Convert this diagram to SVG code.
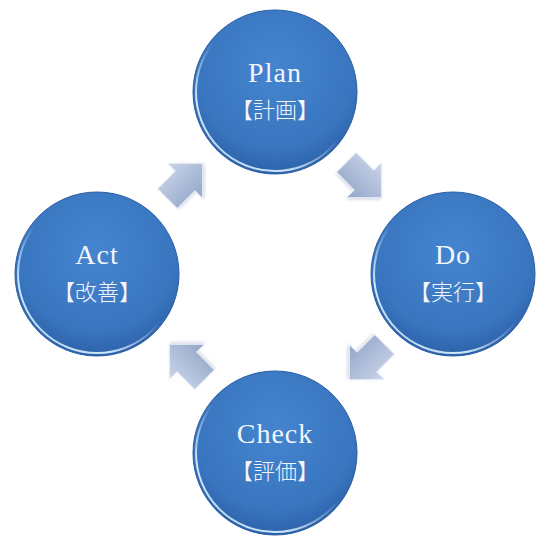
<svg xmlns="http://www.w3.org/2000/svg" width="549" height="541" viewBox="0 0 549 541">
  <defs>
    <radialGradient id="ballFill" cx="0.5" cy="0.36" r="0.64">
      <stop offset="0" stop-color="#4484ce"/>
      <stop offset="0.75" stop-color="#3a76c0"/>
      <stop offset="1" stop-color="#2c62aa"/>
    </radialGradient>
    <linearGradient id="rimLight" x1="0.85" y1="0.05" x2="0.15" y2="0.95">
      <stop offset="0" stop-color="#ffffff" stop-opacity="0"/>
      <stop offset="0.5" stop-color="#ffffff" stop-opacity="0"/>
      <stop offset="0.82" stop-color="#d8f0ff" stop-opacity="0.95"/>
      <stop offset="1" stop-color="#d8f0ff" stop-opacity="0.8"/>
    </linearGradient>
    <linearGradient id="arrowFill" x1="0" y1="0" x2="0" y2="1">
      <stop offset="0" stop-color="#cbd5ea"/>
      <stop offset="0.5" stop-color="#aebdd9"/>
      <stop offset="1" stop-color="#93a6c8"/>
    </linearGradient>
    <filter id="soft" x="-20%" y="-20%" width="140%" height="140%">
      <feGaussianBlur stdDeviation="1.5"/>
    </filter>
    <path id="arrowShape" d="M -25 -14 L 0 -14 L 0 -25 L 25 0 L 0 25 L 0 14 L -25 14 Z"/>
  </defs>
  <style>
    .ball { fill: url(#ballFill); stroke: #2a5ea3; stroke-width: 1; }
    .rim { fill: none; stroke: url(#rimLight); stroke-width: 2; }
    .t1 { font-family: "Liberation Serif", "DejaVu Serif", serif; font-size: 28px; letter-spacing: 1px; fill: #f2f6fb; text-anchor: middle; }
    .t2 { font-family: "Noto Sans CJK JP", "Noto Sans CJK SC", sans-serif; font-size: 22px; font-weight: 300; fill: #f2f6fb; text-anchor: middle; }
    .arrow { fill: url(#arrowFill); stroke: #eef2fa; stroke-width: 1; stroke-linejoin: miter; }
    .ashadow { fill: #8a98b4; opacity: 0.35; filter: url(#soft); }
  </style>

  <g id="connectors">
    <g transform="translate(185,181) rotate(-45)">
      <use href="#arrowShape" class="ashadow" transform="translate(1,2)"/>
      <use href="#arrowShape" class="arrow"/>
    </g>
    <g transform="translate(364,180) rotate(45)">
      <use href="#arrowShape" class="ashadow" transform="translate(1,2)"/>
      <use href="#arrowShape" class="arrow"/>
    </g>
    <g transform="translate(367,362) rotate(135)">
      <use href="#arrowShape" class="ashadow" transform="translate(1,2)"/>
      <use href="#arrowShape" class="arrow"/>
    </g>
    <g transform="translate(187,362) rotate(-135)">
      <use href="#arrowShape" class="ashadow" transform="translate(1,2)"/>
      <use href="#arrowShape" class="arrow"/>
    </g>
  </g>

  <g id="plan">
    <circle class="ball" cx="275" cy="92" r="82"/>
    <circle class="rim" cx="275" cy="92" r="79"/>
    <text class="t1" x="275" y="82">Plan</text>
    <text class="t2" x="275" y="118">【計画】</text>
  </g>
  <g id="do">
    <circle class="ball" cx="453" cy="274" r="82"/>
    <circle class="rim" cx="453" cy="274" r="79"/>
    <text class="t1" x="453" y="264">Do</text>
    <text class="t2" x="453" y="300">【実行】</text>
  </g>
  <g id="check">
    <circle class="ball" cx="275" cy="453" r="82"/>
    <circle class="rim" cx="275" cy="453" r="79"/>
    <text class="t1" x="275" y="443">Check</text>
    <text class="t2" x="275" y="479">【評価】</text>
  </g>
  <g id="act">
    <circle class="ball" cx="97" cy="274" r="82"/>
    <circle class="rim" cx="97" cy="274" r="79"/>
    <text class="t1" x="97" y="264">Act</text>
    <text class="t2" x="97" y="300">【改善】</text>
  </g>
</svg>
